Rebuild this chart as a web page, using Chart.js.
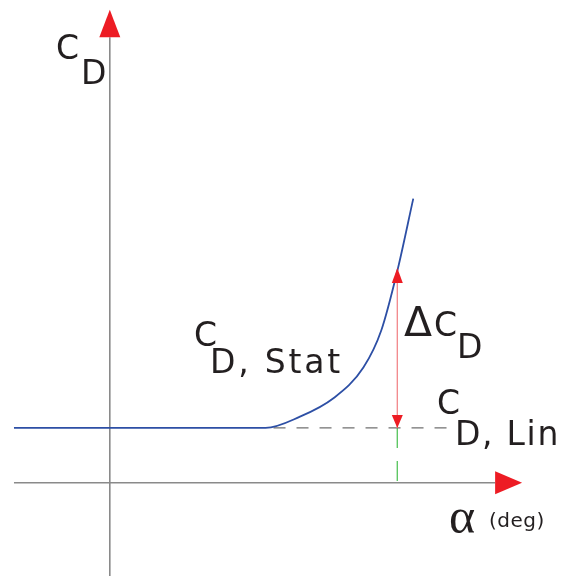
<!DOCTYPE html>
<html>
<head>
<meta charset="utf-8">
<script src="https://cdn.jsdelivr.net/npm/chart.js@4"></script>
<style>
  html, body { margin: 0; padding: 0; background: #fff; }
  canvas { display: block; }
</style>
</head>
<body>
<canvas id="drag" width="569" height="576"></canvas>
<script>
// Drag coefficient vs. angle of attack (schematic)
const alphaStat = [-4.8, 7.8, 9.5, 11.2, 12.7, 13.6, 14.4, 15.2];
const cdStat    = [0.5, 0.5, 0.6, 0.77, 1.05, 1.39, 1.93, 2.59];

const cdLin = 0.5;                 // linear drag level
const alphaLin = [7.8, 16.9];      // extent of the dashed C_D,Lin line
const alphaDelta = 14.4;           // where ΔC_D is measured
const cdDeltaTop = 1.93;

const xAxisSpan = [-4.8, 19.3, 20.65];   // start, line end, arrow tip
const yAxisSpan = [-0.85, 4.06, 4.31];

const pts = (xs, ys) => xs.map((x, i) => ({ x, y: ys[i] }));

const GRAY = '#8a8a8a';
const RED = '#ed1c24';

// arrowheads + text labels
const decorations = {
  id: 'decorations',
  afterDatasetsDraw(chart) {
    const { ctx, scales: { x, y } } = chart;
    const px = v => x.getPixelForValue(v);
    const py = v => y.getPixelForValue(v);

    function head(tx, ty, dir, len, half, color) {
      ctx.save();
      ctx.fillStyle = color;
      ctx.beginPath();
      if (dir === 'up') {
        ctx.moveTo(tx, ty); ctx.lineTo(tx - half, ty + len); ctx.lineTo(tx + half, ty + len);
      } else if (dir === 'down') {
        ctx.moveTo(tx, ty); ctx.lineTo(tx - half, ty - len); ctx.lineTo(tx + half, ty - len);
      } else {
        ctx.moveTo(tx, ty); ctx.lineTo(tx - len, ty - half); ctx.lineTo(tx - len, ty + half);
      }
      ctx.closePath();
      ctx.fill();
      ctx.restore();
    }

    // axis arrows
    head(px(0), py(yAxisSpan[2]), 'up', py(yAxisSpan[1]) - py(yAxisSpan[2]), 10.5, RED);
    head(px(xAxisSpan[2]), py(0), 'right', px(xAxisSpan[2]) - px(xAxisSpan[1]), 11.5, RED);
    // ΔC_D arrow
    head(px(alphaDelta), py(cdDeltaTop) - 3, 'up', 15, 5.5, RED);
    head(px(alphaDelta), py(cdLin), 'down', 13, 5.5, RED);

    function text(str, tx, ty, font, spacing) {
      ctx.font = font;
      ctx.letterSpacing = spacing || '0px';
      ctx.fillText(str, tx, ty);
    }

    ctx.save();
    ctx.fillStyle = '#231f20';
    ctx.textBaseline = 'alphabetic';
    const big = '33px "DejaVu Sans"';

    // C_D on the vertical axis
    text('C', 56, 59, big);
    text('D', 81, 84, big);

    // C_D, Stat
    text('C', 194, 346, big);
    text('D, Stat', 210, 373, big, '2.8px');

    // ΔC_D
    text('\u0394', 404, 336, '41px "DejaVu Sans"');
    text('C', 434, 336, big);
    text('D', 457, 358, big);

    // C_D, Lin
    text('C', 437, 414, big);
    text('D, Lin', 455, 445, big, '1.7px');

    // α (deg)
    text('\u03b1', 449, 533, '50px "Liberation Serif"');
    text('(deg)', 489, 527, '20px "DejaVu Sans"', '0.5px');
    ctx.restore();
  }
};

new Chart(document.getElementById('drag'), {
  type: 'scatter',
  data: {
    datasets: [
      {
        label: 'CD Stat',
        data: pts(alphaStat, cdStat),
        showLine: true,
        borderColor: '#2d4fa5',
        borderWidth: 1.8,
        cubicInterpolationMode: 'monotone',
        pointRadius: 0
      },
      {
        label: 'delta',
        data: [{ x: alphaDelta, y: cdLin }, { x: alphaDelta, y: cdDeltaTop }],
        showLine: true,
        borderColor: '#f2868a',
        borderWidth: 1.3,
        pointRadius: 0
      },
      {
        label: 'CD Lin',
        data: alphaLin.map(a => ({ x: a, y: cdLin })),
        showLine: true,
        borderColor: '#707070',
        borderWidth: 1.4,
        borderDash: [12, 11],
        borderDashOffset: 15,
        pointRadius: 0
      },
      {
        label: 'alpha mark',
        data: [{ x: alphaDelta, y: cdLin }, { x: alphaDelta, y: 0 }],
        showLine: true,
        borderColor: '#5fc765',
        borderWidth: 1.4,
        borderDash: [20, 13],
        pointRadius: 0
      },
      {
        label: 'x axis',
        data: [{ x: xAxisSpan[0], y: 0 }, { x: xAxisSpan[1], y: 0 }],
        showLine: true,
        borderColor: GRAY,
        borderWidth: 1.6,
        pointRadius: 0
      },
      {
        label: 'y axis',
        data: [{ x: 0, y: yAxisSpan[0] }, { x: 0, y: yAxisSpan[1] }],
        showLine: true,
        borderColor: GRAY,
        borderWidth: 1.6,
        pointRadius: 0
      }
    ]
  },
  options: {
    responsive: false,
    animation: false,
    devicePixelRatio: 1,
    layout: { padding: 0 },
    plugins: { legend: { display: false }, tooltip: { enabled: false } },
    scales: {
      x: { type: 'linear', min: -5.5, max: 23, display: false },
      y: { type: 'linear', min: -0.85, max: 4.4, display: false }
    }
  },
  plugins: [decorations]
});
</script>
</body>
</html>
